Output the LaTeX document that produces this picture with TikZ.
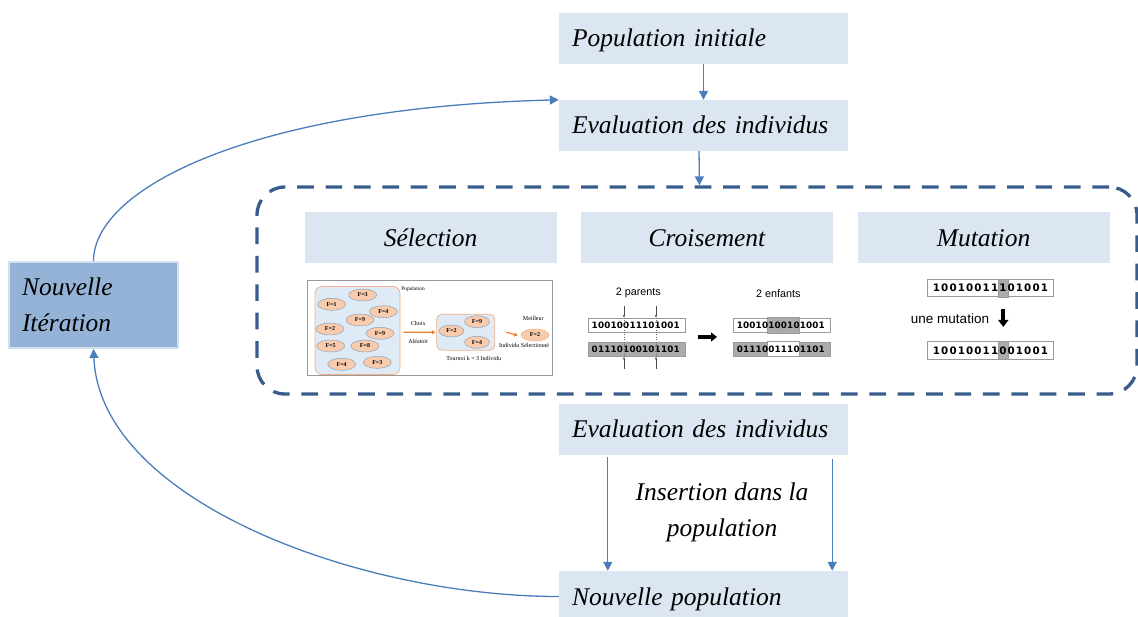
\documentclass[tikz,border=0pt]{standalone}
\usepackage{fontspec}
\setmainfont{Liberation Serif}
\newfontfamily\sansf{Liberation Sans}
\newfontfamily\bitf{DejaVu Sans}
\usetikzlibrary{arrows.meta,calc,shapes.geometric}

\definecolor{boxblue}{HTML}{DCE6F2}
\definecolor{iterblue}{HTML}{95B3D7}
\definecolor{iterrim}{HTML}{D3E0F0}
\definecolor{linkblue}{HTML}{4A7EBB}
\definecolor{frameblue}{HTML}{385D8A}
\definecolor{peach}{HTML}{F8CBAD}
\definecolor{peachrim}{HTML}{F4B183}
\definecolor{pale}{HTML}{DEEBF7}
\definecolor{ellrim}{HTML}{8EA3BA}
\definecolor{flame}{HTML}{ED7D31}
\definecolor{bitgray}{HTML}{ABABAB}
\definecolor{bitrim}{HTML}{9A9A9A}

\newcommand{\bigit}{\fontsize{25.5}{36}\selectfont\itshape}
\newcommand{\tinyserif}[1]{\fontsize{#1}{#1}\selectfont}
% a row of bits at a fixed pitch: name, x of first, y, pitch, style, digits
\newcommand{\bitrow}[6]{\foreach \d [count=\k from 0] in {#6} {\node[#5] (#1-\k) at ({#2+\k*#4},#3) {\d};}}

\tikzset{
  stagebox/.style={fill=boxblue, minimum width=289pt, minimum height=51pt, inner sep=0pt,
    text width=263pt, align=left, text height=22pt, text depth=5pt, font=\bigit},
  opbox/.style={fill=boxblue, minimum width=252pt, minimum height=51pt, inner sep=0pt,
    text height=22pt, text depth=5pt, font=\bigit},
  iterbox/.style={fill=iterblue, draw=iterrim, line width=2pt, minimum width=169pt,
    minimum height=86pt, inner sep=0pt, text width=143pt, align=left, font=\bigit},
  link/.style={draw=linkblue, line width=1.3pt, -{Triangle[width=9pt,length=9pt]}},
  indiv/.style={ellipse, draw=ellrim, fill=peach, line width=0.5pt, minimum width=28pt,
    minimum height=12pt, inner sep=0pt, font=\tinyserif{6}\bfseries},
  group/.style={draw=peachrim, fill=pale, line width=0.8pt, inner sep=0pt},
  note/.style={inner sep=0pt, font=\tinyserif{6}},
  pick/.style={draw=flame, line width=1.2pt, -{Triangle[width=4pt,length=3.5pt]}},
  bitbox/.style={draw=bitrim, line width=0.7pt, inner sep=0pt},
  smallbit/.style={inner sep=0pt, font=\bitf\bfseries\fontsize{8.8}{9}\selectfont},
  bigbit/.style={inner sep=0pt, font=\bitf\bfseries\fontsize{10.3}{11}\selectfont},
  blackarrow/.style={line width=3.3pt, -{Triangle[width=9pt,length=6pt]}},
  cutmark/.style={line width=0.4pt, draw=black!70, -{Latex[width=2.2pt,length=2.5pt]}},
}

\begin{document}
\begin{tikzpicture}[x=1pt,y=-1pt]
\useasboundingbox (0,0) rectangle (1138,617);
\clip (0,0) rectangle (1138,617);

% main chain of stages
\node[stagebox] (pi) at (703.5,38.5) {Population initiale};
\node[stagebox] (ev1) at (703.5,125.5) {Evaluation des individus};
\node[stagebox] (ev2) at (703.5,429.5) {Evaluation des individus};
\node[stagebox] (np) at (703.5,596.5) {Nouvelle population};
\node[iterbox] (ni) at (93.5,305) {Nouvelle\\Itération};
\node[font=\bigit, align=center, inner sep=0pt] (ins) at (722,512) {Insertion dans la\\population};

% frame around the genetic operators
\node[draw=frameblue, line width=3.3pt, dash pattern=on 16.7pt off 11.7pt,
  rounded corners=28pt, minimum width=880pt, minimum height=207pt, inner sep=0pt]
  (ops) at (697,290.5) {};
\node[opbox] (sel) at (430.5,238) {Sélection};
\node[opbox] (cro) at (707,238) {Croisement};
\node[opbox] (mut) at (983.5,238) {Mutation};

% connectors
\draw[link] (pi.south) -- (ev1.north);
\draw[link] ($(ev1.south)+(-4.5,0)$) -- ($(ops.north)+(2.5,0)$);
\draw[link] ($(ev2.south west)+(49,2)$) -- ($(np.north west)+(49,0)$);
\draw[link] ($(ev2.south east)+(-16,4)$) -- ($(np.north east)+(-16,0)$);
\draw[link] (ni.north) .. controls +(0,-72) and +(-309,8) .. (ev1.north west);
\draw[link] (np.west) .. controls +(-199,0) and +(6.5,152) .. (ni.south);

% ---- tournament selection sketch ----
\node[draw=black!40, line width=0.8pt, minimum width=245pt, minimum height=95pt, inner sep=0pt]
  (selpic) at (429.5,328) {};
\node[group, rounded corners=7pt, minimum width=85pt, minimum height=88pt] (popgrp) at (357.5,330.5) {};
\node[indiv] (i1) at (362.7,295) {F=3};
\node[indiv] (i2) at (331.7,304.3) {F=1};
\node[indiv] (i3) at (383.3,311.7) {F=4};
\node[indiv] (i4) at (360,320) {F=9};
\node[indiv] (i5) at (330,329) {F=2};
\node[indiv] (i6) at (380,333.3) {F=9};
\node[indiv] (i7) at (330.7,346) {F=5};
\node[indiv] (i8) at (365,346) {F=8};
\node[indiv] (i9) at (341.7,364.3) {F=4};
\node[indiv] (i10) at (377.3,362.3) {F=3};
\node[note, font=\tinyserif{5.4}] (poplab) at (413,289) {Population};

\node[group, rounded corners=5pt, minimum width=58pt, minimum height=36pt] (tgrp) at (465.8,332.2) {};
\node[indiv, minimum width=25pt] (t1) at (477,321.7) {F=9};
\node[indiv, minimum width=25pt] (t2) at (451.5,331) {F=2};
\node[indiv, minimum width=25pt] (t3) at (477,342.3) {F=4};
\node[note] (tlab) at (473.7,358.3) {Tournoi k = 3 Individu};

\draw[pick] ($(popgrp.east)+(3,1.8)$) -- ($(tgrp.west)+(-1,0)$);
\node[note] (choix) at (418.3,323.3) {Choix};
\node[note] (alea) at (418.3,341) {Aléatoir};

\node[indiv, draw=peachrim] (best) at (535,335) {F=2};
\node[note] (meil) at (533.3,318.3) {Meilleur};
\node[note] (isel) at (524,345.7) {Individu Sélectionné};
\draw[pick] ($(tgrp.east)+(11,0)$) -- ($(best.west)+(-3,0.5)$);

% ---- crossover sketch ----
\node[font=\sansf\fontsize{10.8}{12}\selectfont, inner sep=0pt] (par) at (638.3,293.3) {2 parents};
\node[font=\sansf\fontsize{10.8}{12}\selectfont, inner sep=0pt] (enf) at (778.3,293.3) {2 enfants};
\node[bitbox, fill=white, minimum width=97pt, minimum height=14.5pt] (p1) at (636.5,325.3) {};
\node[bitbox, fill=bitgray, minimum width=97pt, minimum height=14.5pt] (p2) at (636.5,349.2) {};
\node[bitbox, fill=white, minimum width=97pt, minimum height=14.5pt] (c1) at (781.7,325.3) {};
\node[bitbox, fill=bitgray, minimum width=97pt, minimum height=14.5pt] (c2) at (781.7,349.2) {};
\filldraw[fill=bitgray, draw=bitrim, line width=0.7pt]
  ($(c1.south west)+(34.5,0)$) rectangle ($(c1.north west)+(66.8,0)$);
\filldraw[fill=white, draw=bitrim, line width=0.7pt]
  ($(c2.south west)+(34.5,0)$) rectangle ($(c2.north west)+(66.8,0)$);
\bitrow{pa}{594.8}{325.3}{6.3}{smallbit}{1,0,0,1,0,0,1,1,1,0,1,0,0,1}
\bitrow{pb}{594.8}{349.2}{6.3}{smallbit}{0,1,1,1,0,1,0,0,1,0,1,1,0,1}
\bitrow{ca}{739.9}{325.3}{6.3}{smallbit}{1,0,0,1,0,1,0,0,1,0,1,0,0,1}
\bitrow{cb}{739.9}{349.2}{6.3}{smallbit}{0,1,1,1,0,0,1,1,1,0,1,1,0,1}

% crossover points
\coordinate (k1top) at (624,306);
\coordinate (k1bot) at (624,369);
\coordinate (k2top) at (656,306);
\coordinate (k2bot) at (656,369);
\draw[cutmark] (k1top) -- (k1top |- p1.north);
\draw[cutmark] (k2top) -- (k2top |- p1.north);
\draw[cutmark] (k1bot) -- (k1bot |- p2.south);
\draw[cutmark] (k2bot) -- (k2bot |- p2.south);
\draw[dotted, line width=0.4pt, black!60] (k1top |- p1.north) -- (k1bot |- p2.south);
\draw[dotted, line width=0.4pt, black!60] (k2top |- p1.north) -- (k2bot |- p2.south);

\coordinate (xa) at (698,337);
\coordinate (xb) at (717,337);
\draw[blackarrow] (xa) -- (xb);

% ---- mutation sketch ----
\node[bitbox, fill=white, minimum width=125.6pt, minimum height=17.4pt] (m1) at (990.5,288) {};
\node[bitbox, fill=white, minimum width=125.6pt, minimum height=17.4pt] (m2) at (990.5,350.5) {};
\filldraw[fill=bitgray, draw=bitrim, line width=0.7pt]
  ($(m1.south west)+(70.6,0)$) rectangle ($(m1.north west)+(80.6,0)$);
\filldraw[fill=bitgray, draw=bitrim, line width=0.7pt]
  ($(m2.south west)+(70.6,0)$) rectangle ($(m2.north west)+(80.6,0)$);
\bitrow{ma}{936.5}{288}{8.3}{bigbit}{1,0,0,1,0,0,1,1,1,0,1,0,0,1}
\bitrow{mb}{936.5}{350.5}{8.3}{bigbit}{1,0,0,1,0,0,1,1,0,0,1,0,0,1}
\node[font=\sansf\fontsize{13.5}{15}\selectfont, inner sep=0pt] (umut) at (950,318.3) {une mutation};
\draw[line width=4pt, -{Triangle[width=10pt,length=7pt]}]
  ($(m1.south)+(12.8,12)$) -- ($(m2.north)+(12.8,-14.5)$);

\end{tikzpicture}
\end{document}
